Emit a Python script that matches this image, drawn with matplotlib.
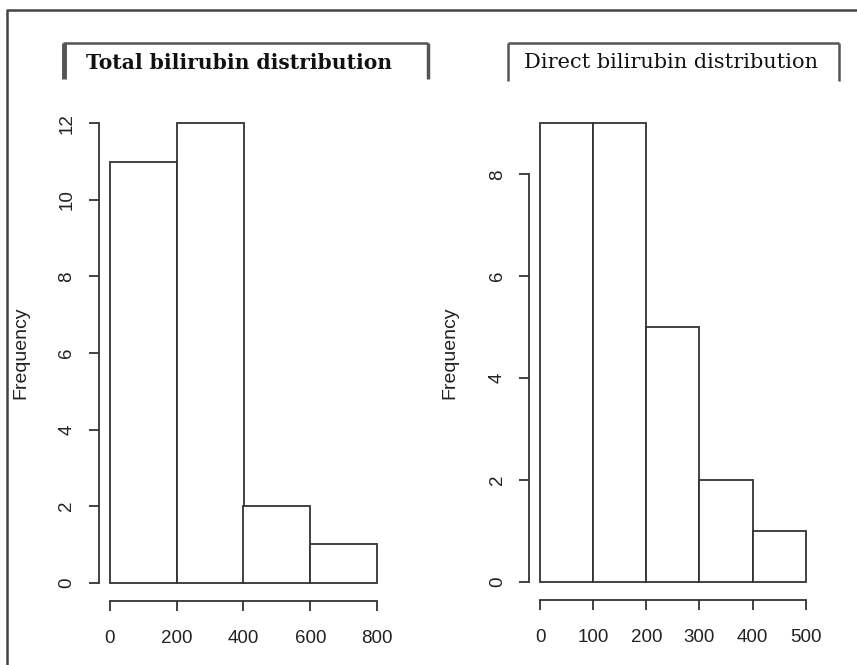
import numpy as np
import matplotlib
matplotlib.use("Agg")
import matplotlib.pyplot as plt
from matplotlib.lines import Line2D

# histogram data
total_edges = [0, 200, 400, 600, 800]
total_counts = [11, 12, 2, 1]
total_yticks = [0, 2, 4, 6, 8, 10, 12]
total_title = "Total bilirubin distribution"

direct_edges = [0, 100, 200, 300, 400, 500]
direct_counts = [9, 9, 5, 2, 1]
direct_yticks = [0, 2, 4, 6, 8]
direct_title = "Direct bilirubin distribution"

W, H = 857, 665
plt.rcParams["font.family"] = ["Liberation Sans", "DejaVu Sans"]
fig = plt.figure(figsize=(W / 100, H / 100), dpi=100)

ink = "#333333"


def px(x, y):
    return x / W, 1 - y / H


def fig_line(xs, ys, lw=1.5, color=ink):
    fx = [x / W for x in xs]
    fy = [1 - y / H for y in ys]
    fig.add_artist(Line2D(fx, fy, lw=lw, color=color, transform=fig.transFigure,
                          solid_capstyle="butt"))


def r_hist(rect, edges, counts, yticks, label_x):
    ax = fig.add_axes(rect)
    edges = np.array(edges)
    counts = np.array(counts)
    ax.bar(edges[:-1], counts, width=np.diff(edges), align="edge",
           facecolor="white", edgecolor=ink, linewidth=1.3)
    # R style 4% padding
    xpad = (edges[-1] - edges[0]) * 0.04
    ypad = counts.max() * 0.04
    ax.set_xlim(edges[0] - xpad, edges[-1] + xpad)
    ax.set_ylim(-ypad, counts.max() + ypad)
    for s in ["top", "right"]:
        ax.spines[s].set_visible(False)
    ax.spines["left"].set_bounds(yticks[0], yticks[-1])
    ax.spines["bottom"].set_bounds(edges[0], edges[-1])
    for s in ["left", "bottom"]:
        ax.spines[s].set_color(ink)
        ax.spines[s].set_linewidth(1.3)
    ax.set_xticks(edges)
    ax.set_yticks(yticks)
    ax.set_yticklabels([str(t) for t in yticks], rotation=90, va="center")
    ax.tick_params(direction="out", length=7, width=1.3, color=ink,
                   labelsize=13.5, labelcolor="#222222")
    ax.tick_params(axis="x", pad=14)
    ax.tick_params(axis="y", pad=10)
    ax.patch.set_alpha(0)
    ax.text(label_x, 0.5, "Frequency", transform=ax.transAxes, rotation=90,
            ha="center", va="center", fontsize=14, color="#222222")
    return ax


r_hist([99 / W, 1 - 601 / H, 289 / W, 496 / H],
       total_edges, total_counts, total_yticks, -0.27)
r_hist([529.4 / W, 1 - 600 / H, 287 / W, 495 / H],
       direct_edges, direct_counts, direct_yticks, -0.277)

# outer frame (left and top only)
fig_line([7, 7, W], [H, 10, 10], lw=1.8, color="#444444")

# boxed titles
fig_line([64, 64], [43, 79], lw=3.5, color="#555555")
fig_line([63, 428], [43, 43], lw=1.8, color="#555555")
fig_line([428, 428], [43, 79], lw=2.5, color="#555555")
fig.text(*px(239, 63), total_title, ha="center", va="center",
         family="DejaVu Serif", fontweight="bold", fontsize=14.6, color="#111111")

fig_line([508, 508], [43, 81], lw=1.8, color="#555555")
fig_line([508, 839], [43, 43], lw=1.8, color="#555555")
fig_line([839, 839], [43, 81], lw=1.8, color="#555555")
fig.text(*px(671, 63), direct_title, ha="center", va="center",
         family="DejaVu Serif", fontsize=15, color="#111111")

fig.savefig("out.png", dpi=100)
